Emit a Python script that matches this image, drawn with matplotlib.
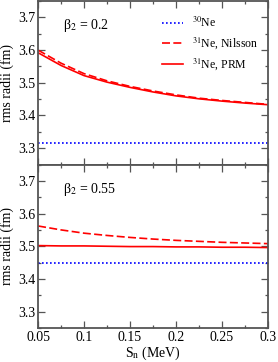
import numpy as np
import matplotlib.pyplot as plt

plt.rcParams['font.family'] = ['Liberation Serif', 'DejaVu Serif']
plt.rcParams['mathtext.fontset'] = 'stix'

# separation energy S_n (MeV)
sn = [0.05, 0.075, 0.1, 0.125, 0.15, 0.175, 0.2, 0.225, 0.25, 0.275, 0.3]

# beta2 = 0.2
ne30_b02 = [3.315] * len(sn)
nilsson_b02 = [3.600, 3.560, 3.528, 3.506, 3.489, 3.475, 3.463, 3.453, 3.446, 3.440, 3.434]
prm_b02 = [3.592, 3.553, 3.522, 3.502, 3.486, 3.472, 3.460, 3.451, 3.444, 3.438, 3.433]

# beta2 = 0.55
ne30_b055 = [3.448] * len(sn)
nilsson_b055 = [3.562, 3.550, 3.540, 3.533, 3.527, 3.522, 3.518, 3.515, 3.512, 3.510, 3.508]
prm_b055 = [3.502, 3.501, 3.501, 3.500, 3.499, 3.499, 3.498, 3.498, 3.497, 3.497, 3.496]

panels = [('β$_2$ = 0.2', ne30_b02, nilsson_b02, prm_b02),
          ('β$_2$ = 0.55', ne30_b055, nilsson_b055, prm_b055)]

fig, axes = plt.subplots(2, 1, figsize=(2.78, 3.62), dpi=100, sharex=True)
fig.subplots_adjust(left=0.137, right=0.964, top=0.997, bottom=0.094, hspace=0)

spine_col = '#555555'
for i, (ax, (title, ne30, nil, prm)) in enumerate(zip(axes, panels)):
    ax.plot(sn, ne30, color='blue', linestyle=(0, (1, 1.4)), lw=1.2, label=r'$^{30}$Ne')
    ax.plot(sn, nil, color='red', linestyle=(0, (4.8, 2)), lw=1.2, label=r'$^{31}$Ne, Nilsson')
    ax.plot(sn, prm, color='red', linestyle='-', lw=1.2, label=r'$^{31}$Ne, PRM')
    ax.set_xlim(0.05, 0.3)
    ax.set_ylim(3.25, 3.75)
    ax.set_yticks([3.3, 3.4, 3.5, 3.6, 3.7])
    ax.set_yticks(np.arange(3.25, 3.751, 0.05), minor=True)
    ax.set_xticks([0.05, 0.1, 0.15, 0.2, 0.25, 0.3])
    ax.set_xticklabels(['0.05', '0.1', '0.15', '0.2', '0.25', '0.3'])
    ax.set_xticks(np.arange(0.05, 0.301, 0.025), minor=True)
    ax.tick_params(which='both', direction='in', top=True, right=True,
                   labelsize=10, color=spine_col, width=0.9, pad=2)
    ax.tick_params(which='major', length=5)
    ax.tick_params(which='minor', length=2.5)
    for s in ax.spines.values():
        s.set_color(spine_col)
        s.set_linewidth(1.3)
    ax.set_ylabel('rms radii (fm)', fontsize=10, labelpad=3)
    ax.text(0.077, 3.664, title, fontsize=10)
    if i == 0:
        ax.legend(loc='upper left', bbox_to_anchor=(0.52, 0.94), frameon=False,
                  fontsize=8.5, handlelength=1.75, handletextpad=0.8,
                  borderaxespad=0, labelspacing=0.45)

axes[1].set_xlabel('S$_{\\rm n}$ (MeV)', fontsize=10, labelpad=1)
fig.savefig('out.png', dpi=100)
